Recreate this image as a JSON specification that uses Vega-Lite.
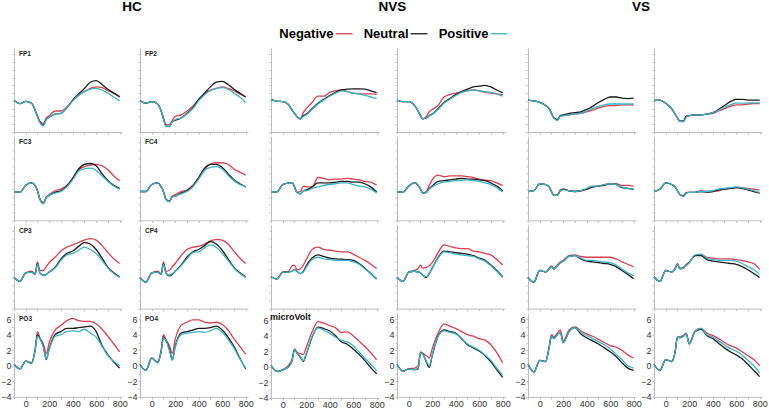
{
"$schema":"https://vega.github.io/schema/vega-lite/v6.json",
"padding":{"left":0,"top":0,"right":2,"bottom":0},
"background":"white",
"data":{"values":[
{"k":"HC FP1","t":-100,"Negative":0.1,"Neutral":0.1,"Positive":0.1},
{"k":"HC FP1","t":-50,"Negative":-0.35,"Neutral":-0.35,"Positive":-0.35},
{"k":"HC FP1","t":0,"Negative":-0.05,"Neutral":-0.05,"Positive":-0.05},
{"k":"HC FP1","t":50,"Negative":-0.3,"Neutral":-0.3,"Positive":-0.3},
{"k":"HC FP1","t":80,"Negative":-1.2,"Neutral":-1.2,"Positive":-1.2},
{"k":"HC FP1","t":100,"Negative":-2.0,"Neutral":-2.0,"Positive":-2.0},
{"k":"HC FP1","t":120,"Negative":-2.6,"Neutral":-2.7,"Positive":-2.8},
{"k":"HC FP1","t":150,"Negative":-2.9,"Neutral":-3.1,"Positive":-3.2},
{"k":"HC FP1","t":175,"Negative":-2.2,"Neutral":-2.4,"Positive":-2.4},
{"k":"HC FP1","t":200,"Negative":-1.9,"Neutral":-2.1,"Positive":-2.1},
{"k":"HC FP1","t":250,"Negative":-1.3,"Neutral":-1.7,"Positive":-1.7},
{"k":"HC FP1","t":300,"Negative":-1.3,"Neutral":-1.6,"Positive":-1.6},
{"k":"HC FP1","t":350,"Negative":-0.8,"Neutral":-0.9,"Positive":-0.9},
{"k":"HC FP1","t":400,"Negative":0.0,"Neutral":0.1,"Positive":0.0},
{"k":"HC FP1","t":450,"Negative":0.7,"Neutral":0.9,"Positive":0.7},
{"k":"HC FP1","t":500,"Negative":1.2,"Neutral":1.6,"Positive":1.2},
{"k":"HC FP1","t":550,"Negative":1.6,"Neutral":2.4,"Positive":1.5},
{"k":"HC FP1","t":600,"Negative":1.8,"Neutral":2.6,"Positive":1.6},
{"k":"HC FP1","t":650,"Negative":1.7,"Neutral":2.1,"Positive":1.4},
{"k":"HC FP1","t":700,"Negative":1.3,"Neutral":1.5,"Positive":1.0},
{"k":"HC FP1","t":750,"Negative":1.0,"Neutral":1.0,"Positive":0.5},
{"k":"HC FP1","t":800,"Negative":0.6,"Neutral":0.5,"Positive":0.0},
{"k":"HC FP2","t":-100,"Negative":0.05,"Neutral":0.05,"Positive":0.05},
{"k":"HC FP2","t":-50,"Negative":-0.3,"Neutral":-0.3,"Positive":-0.3},
{"k":"HC FP2","t":0,"Negative":-0.1,"Neutral":-0.1,"Positive":-0.1},
{"k":"HC FP2","t":50,"Negative":-0.4,"Neutral":-0.4,"Positive":-0.4},
{"k":"HC FP2","t":80,"Negative":-1.3,"Neutral":-1.3,"Positive":-1.3},
{"k":"HC FP2","t":100,"Negative":-2.2,"Neutral":-2.3,"Positive":-2.3},
{"k":"HC FP2","t":120,"Negative":-3.0,"Neutral":-3.2,"Positive":-3.2},
{"k":"HC FP2","t":150,"Negative":-3.1,"Neutral":-3.3,"Positive":-3.3},
{"k":"HC FP2","t":175,"Negative":-2.5,"Neutral":-2.7,"Positive":-2.7},
{"k":"HC FP2","t":200,"Negative":-2.0,"Neutral":-2.5,"Positive":-2.4},
{"k":"HC FP2","t":250,"Negative":-1.8,"Neutral":-2.2,"Positive":-2.2},
{"k":"HC FP2","t":300,"Negative":-1.3,"Neutral":-1.6,"Positive":-1.7},
{"k":"HC FP2","t":350,"Negative":-0.7,"Neutral":-0.9,"Positive":-1.0},
{"k":"HC FP2","t":400,"Negative":0.2,"Neutral":0.2,"Positive":0.0},
{"k":"HC FP2","t":450,"Negative":0.9,"Neutral":1.0,"Positive":0.8},
{"k":"HC FP2","t":500,"Negative":1.4,"Neutral":1.8,"Positive":1.3},
{"k":"HC FP2","t":550,"Negative":1.6,"Neutral":2.4,"Positive":1.6},
{"k":"HC FP2","t":600,"Negative":1.8,"Neutral":2.5,"Positive":1.7},
{"k":"HC FP2","t":650,"Negative":1.6,"Neutral":2.1,"Positive":1.5},
{"k":"HC FP2","t":700,"Negative":1.3,"Neutral":1.5,"Positive":1.0},
{"k":"HC FP2","t":750,"Negative":0.9,"Neutral":1.0,"Positive":0.5},
{"k":"HC FP2","t":800,"Negative":0.5,"Neutral":0.5,"Positive":-0.2},
{"k":"NVS FP1","t":-100,"Negative":0.15,"Neutral":0.15,"Positive":0.15},
{"k":"NVS FP1","t":-50,"Negative":-0.05,"Neutral":-0.05,"Positive":-0.05},
{"k":"NVS FP1","t":0,"Negative":-0.1,"Neutral":-0.1,"Positive":-0.1},
{"k":"NVS FP1","t":50,"Negative":-0.5,"Neutral":-0.5,"Positive":-0.5},
{"k":"NVS FP1","t":80,"Negative":-1.2,"Neutral":-1.2,"Positive":-1.2},
{"k":"NVS FP1","t":100,"Negative":-1.6,"Neutral":-1.6,"Positive":-1.6},
{"k":"NVS FP1","t":120,"Negative":-2.0,"Neutral":-2.0,"Positive":-2.0},
{"k":"NVS FP1","t":150,"Negative":-2.3,"Neutral":-2.3,"Positive":-2.35},
{"k":"NVS FP1","t":175,"Negative":-1.5,"Neutral":-1.9,"Positive":-2.0},
{"k":"NVS FP1","t":200,"Negative":-1.0,"Neutral":-1.7,"Positive":-1.8},
{"k":"NVS FP1","t":250,"Negative":-0.2,"Neutral":-1.0,"Positive":-1.1},
{"k":"NVS FP1","t":300,"Negative":0.6,"Neutral":-0.3,"Positive":-0.4},
{"k":"NVS FP1","t":350,"Negative":0.6,"Neutral":0.2,"Positive":0.1},
{"k":"NVS FP1","t":400,"Negative":1.1,"Neutral":0.7,"Positive":0.6},
{"k":"NVS FP1","t":450,"Negative":1.3,"Neutral":1.1,"Positive":1.0},
{"k":"NVS FP1","t":500,"Negative":1.4,"Neutral":1.4,"Positive":1.3},
{"k":"NVS FP1","t":550,"Negative":1.2,"Neutral":1.5,"Positive":1.2},
{"k":"NVS FP1","t":600,"Negative":1.0,"Neutral":1.55,"Positive":1.0},
{"k":"NVS FP1","t":650,"Negative":0.9,"Neutral":1.55,"Positive":0.9},
{"k":"NVS FP1","t":700,"Negative":0.9,"Neutral":1.5,"Positive":0.7},
{"k":"NVS FP1","t":750,"Negative":0.9,"Neutral":1.3,"Positive":0.5},
{"k":"NVS FP1","t":800,"Negative":0.85,"Neutral":1.05,"Positive":0.3},
{"k":"NVS FP2","t":-100,"Negative":0.1,"Neutral":0.1,"Positive":0.1},
{"k":"NVS FP2","t":-50,"Negative":-0.1,"Neutral":-0.1,"Positive":-0.1},
{"k":"NVS FP2","t":0,"Negative":-0.1,"Neutral":-0.1,"Positive":-0.1},
{"k":"NVS FP2","t":50,"Negative":-0.6,"Neutral":-0.6,"Positive":-0.6},
{"k":"NVS FP2","t":80,"Negative":-1.3,"Neutral":-1.3,"Positive":-1.3},
{"k":"NVS FP2","t":100,"Negative":-1.9,"Neutral":-1.9,"Positive":-1.9},
{"k":"NVS FP2","t":120,"Negative":-2.3,"Neutral":-2.3,"Positive":-2.3},
{"k":"NVS FP2","t":150,"Negative":-2.0,"Neutral":-2.2,"Positive":-2.2},
{"k":"NVS FP2","t":175,"Negative":-1.4,"Neutral":-1.9,"Positive":-1.9},
{"k":"NVS FP2","t":200,"Negative":-1.1,"Neutral":-1.7,"Positive":-1.7},
{"k":"NVS FP2","t":250,"Negative":-0.6,"Neutral":-1.0,"Positive":-1.1},
{"k":"NVS FP2","t":300,"Negative":0.5,"Neutral":-0.2,"Positive":-0.3},
{"k":"NVS FP2","t":350,"Negative":0.8,"Neutral":0.3,"Positive":0.2},
{"k":"NVS FP2","t":400,"Negative":1.0,"Neutral":0.8,"Positive":0.7},
{"k":"NVS FP2","t":450,"Negative":1.2,"Neutral":1.2,"Positive":1.1},
{"k":"NVS FP2","t":500,"Negative":1.3,"Neutral":1.5,"Positive":1.3},
{"k":"NVS FP2","t":550,"Negative":1.4,"Neutral":1.8,"Positive":1.4},
{"k":"NVS FP2","t":600,"Negative":1.3,"Neutral":1.9,"Positive":1.3},
{"k":"NVS FP2","t":650,"Negative":1.1,"Neutral":2.0,"Positive":1.2},
{"k":"NVS FP2","t":700,"Negative":1.0,"Neutral":1.8,"Positive":1.1},
{"k":"NVS FP2","t":750,"Negative":0.9,"Neutral":1.4,"Positive":0.9},
{"k":"NVS FP2","t":800,"Negative":0.8,"Neutral":1.05,"Positive":0.6},
{"k":"VS FP1","t":-100,"Negative":0.1,"Neutral":0.1,"Positive":0.1},
{"k":"VS FP1","t":-50,"Negative":0.0,"Neutral":0.0,"Positive":0.0},
{"k":"VS FP1","t":0,"Negative":-0.2,"Neutral":-0.2,"Positive":-0.2},
{"k":"VS FP1","t":50,"Negative":-0.6,"Neutral":-0.6,"Positive":-0.6},
{"k":"VS FP1","t":80,"Negative":-1.0,"Neutral":-1.0,"Positive":-1.0},
{"k":"VS FP1","t":100,"Negative":-1.6,"Neutral":-1.6,"Positive":-1.6},
{"k":"VS FP1","t":120,"Negative":-2.2,"Neutral":-2.2,"Positive":-2.2},
{"k":"VS FP1","t":150,"Negative":-2.4,"Neutral":-2.4,"Positive":-2.5},
{"k":"VS FP1","t":175,"Negative":-2.0,"Neutral":-1.9,"Positive":-2.0},
{"k":"VS FP1","t":200,"Negative":-1.9,"Neutral":-1.8,"Positive":-1.9},
{"k":"VS FP1","t":250,"Negative":-1.8,"Neutral":-1.6,"Positive":-1.8},
{"k":"VS FP1","t":300,"Negative":-1.7,"Neutral":-1.5,"Positive":-1.7},
{"k":"VS FP1","t":350,"Negative":-1.6,"Neutral":-1.4,"Positive":-1.6},
{"k":"VS FP1","t":400,"Negative":-1.4,"Neutral":-1.1,"Positive":-1.3},
{"k":"VS FP1","t":450,"Negative":-1.2,"Neutral":-0.7,"Positive":-1.0},
{"k":"VS FP1","t":500,"Negative":-0.9,"Neutral":-0.2,"Positive":-0.7},
{"k":"VS FP1","t":550,"Negative":-0.7,"Neutral":0.2,"Positive":-0.5},
{"k":"VS FP1","t":600,"Negative":-0.6,"Neutral":0.5,"Positive":-0.4},
{"k":"VS FP1","t":650,"Negative":-0.6,"Neutral":0.5,"Positive":-0.4},
{"k":"VS FP1","t":700,"Negative":-0.5,"Neutral":0.35,"Positive":-0.4},
{"k":"VS FP1","t":750,"Negative":-0.5,"Neutral":0.3,"Positive":-0.4},
{"k":"VS FP1","t":800,"Negative":-0.55,"Neutral":0.35,"Positive":-0.4},
{"k":"VS FP2","t":-100,"Negative":0.05,"Neutral":0.05,"Positive":0.05},
{"k":"VS FP2","t":-50,"Negative":0.1,"Neutral":0.1,"Positive":0.1},
{"k":"VS FP2","t":0,"Negative":-0.3,"Neutral":-0.3,"Positive":-0.3},
{"k":"VS FP2","t":50,"Negative":-1.0,"Neutral":-1.0,"Positive":-1.0},
{"k":"VS FP2","t":80,"Negative":-1.7,"Neutral":-1.7,"Positive":-1.7},
{"k":"VS FP2","t":100,"Negative":-2.2,"Neutral":-2.2,"Positive":-2.2},
{"k":"VS FP2","t":120,"Negative":-2.6,"Neutral":-2.6,"Positive":-2.6},
{"k":"VS FP2","t":150,"Negative":-2.6,"Neutral":-2.6,"Positive":-2.7},
{"k":"VS FP2","t":175,"Negative":-2.0,"Neutral":-2.0,"Positive":-2.1},
{"k":"VS FP2","t":200,"Negative":-1.9,"Neutral":-1.9,"Positive":-1.9},
{"k":"VS FP2","t":250,"Negative":-1.8,"Neutral":-1.8,"Positive":-1.8},
{"k":"VS FP2","t":300,"Negative":-1.8,"Neutral":-1.8,"Positive":-1.8},
{"k":"VS FP2","t":350,"Negative":-1.7,"Neutral":-1.7,"Positive":-1.7},
{"k":"VS FP2","t":400,"Negative":-1.6,"Neutral":-1.5,"Positive":-1.5},
{"k":"VS FP2","t":450,"Negative":-1.3,"Neutral":-1.1,"Positive":-1.2},
{"k":"VS FP2","t":500,"Negative":-1.0,"Neutral":-0.6,"Positive":-0.8},
{"k":"VS FP2","t":550,"Negative":-0.7,"Neutral":-0.1,"Positive":-0.5},
{"k":"VS FP2","t":600,"Negative":-0.5,"Neutral":0.2,"Positive":-0.3},
{"k":"VS FP2","t":650,"Negative":-0.5,"Neutral":0.2,"Positive":-0.3},
{"k":"VS FP2","t":700,"Negative":-0.4,"Neutral":0.1,"Positive":-0.25},
{"k":"VS FP2","t":750,"Negative":-0.35,"Neutral":0.1,"Positive":-0.25},
{"k":"VS FP2","t":800,"Negative":-0.35,"Neutral":0.1,"Positive":-0.25},
{"k":"HC FC3","t":-100,"Negative":-0.3,"Neutral":-0.3,"Positive":-0.3},
{"k":"HC FC3","t":-50,"Negative":-0.4,"Neutral":-0.4,"Positive":-0.4},
{"k":"HC FC3","t":0,"Negative":0.5,"Neutral":0.5,"Positive":0.5},
{"k":"HC FC3","t":50,"Negative":0.8,"Neutral":0.8,"Positive":0.8},
{"k":"HC FC3","t":80,"Negative":0.45,"Neutral":0.45,"Positive":0.45},
{"k":"HC FC3","t":100,"Negative":-0.2,"Neutral":-0.2,"Positive":-0.2},
{"k":"HC FC3","t":120,"Negative":-1.2,"Neutral":-1.3,"Positive":-1.3},
{"k":"HC FC3","t":150,"Negative":-1.7,"Neutral":-1.85,"Positive":-1.85},
{"k":"HC FC3","t":175,"Negative":-1.0,"Neutral":-1.1,"Positive":-1.1},
{"k":"HC FC3","t":200,"Negative":-0.7,"Neutral":-0.8,"Positive":-0.8},
{"k":"HC FC3","t":250,"Negative":-0.2,"Neutral":-0.4,"Positive":-0.5},
{"k":"HC FC3","t":300,"Negative":0.0,"Neutral":-0.2,"Positive":-0.3},
{"k":"HC FC3","t":350,"Negative":0.5,"Neutral":0.4,"Positive":0.3},
{"k":"HC FC3","t":400,"Negative":1.4,"Neutral":1.4,"Positive":1.2},
{"k":"HC FC3","t":450,"Negative":2.5,"Neutral":2.6,"Positive":2.3},
{"k":"HC FC3","t":500,"Negative":2.9,"Neutral":3.2,"Positive":2.6},
{"k":"HC FC3","t":550,"Negative":3.1,"Neutral":3.3,"Positive":2.7},
{"k":"HC FC3","t":600,"Negative":3.2,"Neutral":3.0,"Positive":2.4},
{"k":"HC FC3","t":650,"Negative":3.0,"Neutral":2.0,"Positive":1.7},
{"k":"HC FC3","t":700,"Negative":2.5,"Neutral":1.1,"Positive":1.0},
{"k":"HC FC3","t":750,"Negative":1.7,"Neutral":0.5,"Positive":0.4},
{"k":"HC FC3","t":800,"Negative":1.1,"Neutral":0.1,"Positive":0.0},
{"k":"HC FC4","t":-100,"Negative":-0.3,"Neutral":-0.3,"Positive":-0.3},
{"k":"HC FC4","t":-50,"Negative":-0.3,"Neutral":-0.3,"Positive":-0.3},
{"k":"HC FC4","t":0,"Negative":0.6,"Neutral":0.6,"Positive":0.6},
{"k":"HC FC4","t":50,"Negative":0.8,"Neutral":0.8,"Positive":0.8},
{"k":"HC FC4","t":80,"Negative":0.3,"Neutral":0.3,"Positive":0.3},
{"k":"HC FC4","t":100,"Negative":-0.3,"Neutral":-0.3,"Positive":-0.3},
{"k":"HC FC4","t":120,"Negative":-1.2,"Neutral":-1.3,"Positive":-1.3},
{"k":"HC FC4","t":150,"Negative":-1.5,"Neutral":-1.6,"Positive":-1.6},
{"k":"HC FC4","t":175,"Negative":-0.9,"Neutral":-1.0,"Positive":-1.0},
{"k":"HC FC4","t":200,"Negative":-0.7,"Neutral":-0.9,"Positive":-0.9},
{"k":"HC FC4","t":250,"Negative":-0.3,"Neutral":-0.5,"Positive":-0.6},
{"k":"HC FC4","t":300,"Negative":-0.1,"Neutral":-0.2,"Positive":-0.3},
{"k":"HC FC4","t":350,"Negative":0.5,"Neutral":0.4,"Positive":0.3},
{"k":"HC FC4","t":400,"Negative":1.5,"Neutral":1.5,"Positive":1.3},
{"k":"HC FC4","t":450,"Negative":2.6,"Neutral":2.7,"Positive":2.4},
{"k":"HC FC4","t":500,"Negative":3.2,"Neutral":3.2,"Positive":2.8},
{"k":"HC FC4","t":550,"Negative":3.4,"Neutral":3.2,"Positive":2.9},
{"k":"HC FC4","t":600,"Negative":3.4,"Neutral":2.8,"Positive":2.6},
{"k":"HC FC4","t":650,"Negative":3.2,"Neutral":2.0,"Positive":1.8},
{"k":"HC FC4","t":700,"Negative":2.6,"Neutral":1.2,"Positive":1.1},
{"k":"HC FC4","t":750,"Negative":2.2,"Neutral":0.7,"Positive":0.6},
{"k":"HC FC4","t":800,"Negative":1.8,"Neutral":0.3,"Positive":0.3},
{"k":"NVS FC3","t":-100,"Negative":-0.3,"Neutral":-0.3,"Positive":-0.3},
{"k":"NVS FC3","t":-50,"Negative":-0.35,"Neutral":-0.35,"Positive":-0.35},
{"k":"NVS FC3","t":0,"Negative":0.6,"Neutral":0.6,"Positive":0.6},
{"k":"NVS FC3","t":50,"Negative":0.8,"Neutral":0.8,"Positive":0.8},
{"k":"NVS FC3","t":80,"Negative":0.85,"Neutral":0.85,"Positive":0.85},
{"k":"NVS FC3","t":100,"Negative":0.3,"Neutral":0.3,"Positive":0.3},
{"k":"NVS FC3","t":120,"Negative":-0.4,"Neutral":-0.4,"Positive":-0.4},
{"k":"NVS FC3","t":150,"Negative":-0.3,"Neutral":-0.6,"Positive":-0.6},
{"k":"NVS FC3","t":175,"Negative":0.4,"Neutral":-0.2,"Positive":-0.2},
{"k":"NVS FC3","t":200,"Negative":0.3,"Neutral":-0.1,"Positive":-0.2},
{"k":"NVS FC3","t":250,"Negative":0.3,"Neutral":0.3,"Positive":0.1},
{"k":"NVS FC3","t":300,"Negative":1.5,"Neutral":0.8,"Positive":0.3},
{"k":"NVS FC3","t":350,"Negative":1.4,"Neutral":0.8,"Positive":0.5},
{"k":"NVS FC3","t":400,"Negative":1.2,"Neutral":0.8,"Positive":0.6},
{"k":"NVS FC3","t":450,"Negative":1.3,"Neutral":0.9,"Positive":0.7},
{"k":"NVS FC3","t":500,"Negative":1.3,"Neutral":1.0,"Positive":0.8},
{"k":"NVS FC3","t":550,"Negative":1.4,"Neutral":1.0,"Positive":0.8},
{"k":"NVS FC3","t":600,"Negative":1.3,"Neutral":0.9,"Positive":0.6},
{"k":"NVS FC3","t":650,"Negative":1.2,"Neutral":0.9,"Positive":0.4},
{"k":"NVS FC3","t":700,"Negative":1.0,"Neutral":0.7,"Positive":0.3},
{"k":"NVS FC3","t":750,"Negative":0.9,"Neutral":0.3,"Positive":0.0},
{"k":"NVS FC3","t":800,"Negative":0.5,"Neutral":-0.35,"Positive":-0.5},
{"k":"NVS FC4","t":-100,"Negative":-0.3,"Neutral":-0.3,"Positive":-0.3},
{"k":"NVS FC4","t":-50,"Negative":-0.4,"Neutral":-0.4,"Positive":-0.4},
{"k":"NVS FC4","t":0,"Negative":0.4,"Neutral":0.4,"Positive":0.4},
{"k":"NVS FC4","t":50,"Negative":0.85,"Neutral":0.85,"Positive":0.85},
{"k":"NVS FC4","t":80,"Negative":0.5,"Neutral":0.5,"Positive":0.5},
{"k":"NVS FC4","t":100,"Negative":0.0,"Neutral":0.0,"Positive":0.0},
{"k":"NVS FC4","t":120,"Negative":-0.5,"Neutral":-0.5,"Positive":-0.5},
{"k":"NVS FC4","t":150,"Negative":-0.3,"Neutral":-0.4,"Positive":-0.4},
{"k":"NVS FC4","t":175,"Negative":0.5,"Neutral":0.1,"Positive":0.0},
{"k":"NVS FC4","t":200,"Negative":1.2,"Neutral":0.4,"Positive":0.3},
{"k":"NVS FC4","t":250,"Negative":1.8,"Neutral":1.0,"Positive":0.7},
{"k":"NVS FC4","t":300,"Negative":1.6,"Neutral":1.1,"Positive":0.9},
{"k":"NVS FC4","t":350,"Negative":1.7,"Neutral":1.2,"Positive":1.0},
{"k":"NVS FC4","t":400,"Negative":1.7,"Neutral":1.3,"Positive":1.1},
{"k":"NVS FC4","t":450,"Negative":1.7,"Neutral":1.4,"Positive":1.15},
{"k":"NVS FC4","t":500,"Negative":1.6,"Neutral":1.3,"Positive":1.2},
{"k":"NVS FC4","t":550,"Negative":1.5,"Neutral":1.3,"Positive":1.1},
{"k":"NVS FC4","t":600,"Negative":1.3,"Neutral":1.2,"Positive":1.0},
{"k":"NVS FC4","t":650,"Negative":1.15,"Neutral":1.1,"Positive":0.8},
{"k":"NVS FC4","t":700,"Negative":1.1,"Neutral":0.8,"Positive":0.6},
{"k":"NVS FC4","t":750,"Negative":0.8,"Neutral":0.4,"Positive":0.2},
{"k":"NVS FC4","t":800,"Negative":0.5,"Neutral":-0.2,"Positive":-0.35},
{"k":"VS FC3","t":-100,"Negative":-0.3,"Neutral":-0.3,"Positive":-0.3},
{"k":"VS FC3","t":-50,"Negative":-0.2,"Neutral":-0.2,"Positive":-0.2},
{"k":"VS FC3","t":0,"Negative":0.7,"Neutral":0.7,"Positive":0.7},
{"k":"VS FC3","t":50,"Negative":0.6,"Neutral":0.6,"Positive":0.6},
{"k":"VS FC3","t":80,"Negative":0.3,"Neutral":0.3,"Positive":0.3},
{"k":"VS FC3","t":100,"Negative":-0.3,"Neutral":-0.3,"Positive":-0.3},
{"k":"VS FC3","t":120,"Negative":-0.8,"Neutral":-0.8,"Positive":-0.8},
{"k":"VS FC3","t":150,"Negative":-0.7,"Neutral":-0.8,"Positive":-0.8},
{"k":"VS FC3","t":175,"Negative":-0.1,"Neutral":-0.2,"Positive":-0.2},
{"k":"VS FC3","t":200,"Negative":0.0,"Neutral":0.0,"Positive":-0.1},
{"k":"VS FC3","t":250,"Negative":-0.2,"Neutral":-0.2,"Positive":-0.2},
{"k":"VS FC3","t":300,"Negative":-0.3,"Neutral":-0.3,"Positive":-0.3},
{"k":"VS FC3","t":350,"Negative":-0.2,"Neutral":-0.2,"Positive":-0.2},
{"k":"VS FC3","t":400,"Negative":0.0,"Neutral":0.0,"Positive":0.1},
{"k":"VS FC3","t":450,"Negative":0.3,"Neutral":0.3,"Positive":0.4},
{"k":"VS FC3","t":500,"Negative":0.4,"Neutral":0.4,"Positive":0.4},
{"k":"VS FC3","t":550,"Negative":0.6,"Neutral":0.5,"Positive":0.6},
{"k":"VS FC3","t":600,"Negative":0.7,"Neutral":0.7,"Positive":0.7},
{"k":"VS FC3","t":650,"Negative":0.7,"Neutral":0.6,"Positive":0.6},
{"k":"VS FC3","t":700,"Negative":0.5,"Neutral":0.2,"Positive":0.3},
{"k":"VS FC3","t":750,"Negative":0.5,"Neutral":0.1,"Positive":0.1},
{"k":"VS FC3","t":800,"Negative":0.4,"Neutral":0.0,"Positive":0.0},
{"k":"VS FC4","t":-100,"Negative":-0.3,"Neutral":-0.3,"Positive":-0.3},
{"k":"VS FC4","t":-50,"Negative":0.0,"Neutral":0.0,"Positive":0.0},
{"k":"VS FC4","t":0,"Negative":0.8,"Neutral":0.8,"Positive":0.8},
{"k":"VS FC4","t":50,"Negative":0.6,"Neutral":0.6,"Positive":0.6},
{"k":"VS FC4","t":80,"Negative":0.3,"Neutral":0.3,"Positive":0.3},
{"k":"VS FC4","t":100,"Negative":-0.2,"Neutral":-0.2,"Positive":-0.2},
{"k":"VS FC4","t":120,"Negative":-0.7,"Neutral":-0.7,"Positive":-0.7},
{"k":"VS FC4","t":150,"Negative":-0.8,"Neutral":-0.9,"Positive":-0.9},
{"k":"VS FC4","t":175,"Negative":-0.4,"Neutral":-0.5,"Positive":-0.5},
{"k":"VS FC4","t":200,"Negative":-0.4,"Neutral":-0.4,"Positive":-0.4},
{"k":"VS FC4","t":250,"Negative":-0.4,"Neutral":-0.4,"Positive":-0.4},
{"k":"VS FC4","t":300,"Negative":-0.2,"Neutral":-0.3,"Positive":-0.3},
{"k":"VS FC4","t":350,"Negative":-0.3,"Neutral":-0.4,"Positive":-0.3},
{"k":"VS FC4","t":400,"Negative":-0.3,"Neutral":-0.3,"Positive":-0.2},
{"k":"VS FC4","t":450,"Negative":-0.2,"Neutral":-0.1,"Positive":0.0},
{"k":"VS FC4","t":500,"Negative":0.0,"Neutral":0.0,"Positive":0.1},
{"k":"VS FC4","t":550,"Negative":0.1,"Neutral":0.1,"Positive":0.2},
{"k":"VS FC4","t":600,"Negative":0.2,"Neutral":0.2,"Positive":0.3},
{"k":"VS FC4","t":650,"Negative":0.2,"Neutral":0.1,"Positive":0.2},
{"k":"VS FC4","t":700,"Negative":0.1,"Neutral":-0.1,"Positive":0.0},
{"k":"VS FC4","t":750,"Negative":0.0,"Neutral":-0.3,"Positive":-0.2},
{"k":"VS FC4","t":800,"Negative":-0.1,"Neutral":-0.5,"Positive":-0.4},
{"k":"HC CP3","t":-100,"Negative":0.0,"Neutral":0.0,"Positive":0.0},
{"k":"HC CP3","t":-50,"Negative":-0.5,"Neutral":-0.5,"Positive":-0.5},
{"k":"HC CP3","t":0,"Negative":0.6,"Neutral":0.6,"Positive":0.6},
{"k":"HC CP3","t":50,"Negative":0.8,"Neutral":0.7,"Positive":0.7},
{"k":"HC CP3","t":80,"Negative":0.5,"Neutral":0.4,"Positive":0.4},
{"k":"HC CP3","t":100,"Negative":2.0,"Neutral":1.8,"Positive":1.7},
{"k":"HC CP3","t":120,"Negative":0.9,"Neutral":0.6,"Positive":0.6},
{"k":"HC CP3","t":150,"Negative":0.9,"Neutral":0.3,"Positive":0.3},
{"k":"HC CP3","t":175,"Negative":1.4,"Neutral":0.4,"Positive":0.4},
{"k":"HC CP3","t":200,"Negative":1.9,"Neutral":0.7,"Positive":0.7},
{"k":"HC CP3","t":250,"Negative":2.6,"Neutral":1.3,"Positive":1.2},
{"k":"HC CP3","t":300,"Negative":3.4,"Neutral":2.4,"Positive":2.2},
{"k":"HC CP3","t":350,"Negative":3.9,"Neutral":3.1,"Positive":2.9},
{"k":"HC CP3","t":400,"Negative":4.2,"Neutral":3.4,"Positive":3.1},
{"k":"HC CP3","t":450,"Negative":4.5,"Neutral":4.0,"Positive":3.5},
{"k":"HC CP3","t":500,"Negative":4.8,"Neutral":4.5,"Positive":3.9},
{"k":"HC CP3","t":550,"Negative":5.0,"Neutral":4.3,"Positive":3.6},
{"k":"HC CP3","t":600,"Negative":4.8,"Neutral":3.6,"Positive":3.1},
{"k":"HC CP3","t":650,"Negative":4.1,"Neutral":2.5,"Positive":2.2},
{"k":"HC CP3","t":700,"Negative":3.2,"Neutral":1.3,"Positive":1.2},
{"k":"HC CP3","t":750,"Negative":2.4,"Neutral":0.6,"Positive":0.5},
{"k":"HC CP3","t":800,"Negative":1.8,"Neutral":0.1,"Positive":0.0},
{"k":"HC CP4","t":-100,"Negative":0.0,"Neutral":0.0,"Positive":0.0},
{"k":"HC CP4","t":-50,"Negative":-0.6,"Neutral":-0.6,"Positive":-0.6},
{"k":"HC CP4","t":0,"Negative":0.6,"Neutral":0.6,"Positive":0.6},
{"k":"HC CP4","t":50,"Negative":0.8,"Neutral":0.7,"Positive":0.7},
{"k":"HC CP4","t":80,"Negative":0.5,"Neutral":0.4,"Positive":0.4},
{"k":"HC CP4","t":100,"Negative":2.0,"Neutral":1.8,"Positive":1.7},
{"k":"HC CP4","t":120,"Negative":0.8,"Neutral":0.6,"Positive":0.6},
{"k":"HC CP4","t":150,"Negative":0.9,"Neutral":0.2,"Positive":0.3},
{"k":"HC CP4","t":175,"Negative":1.4,"Neutral":0.4,"Positive":0.5},
{"k":"HC CP4","t":200,"Negative":1.8,"Neutral":0.8,"Positive":0.8},
{"k":"HC CP4","t":250,"Negative":2.8,"Neutral":1.6,"Positive":1.5},
{"k":"HC CP4","t":300,"Negative":3.6,"Neutral":2.6,"Positive":2.4},
{"k":"HC CP4","t":350,"Negative":3.9,"Neutral":3.3,"Positive":3.2},
{"k":"HC CP4","t":400,"Negative":4.0,"Neutral":3.6,"Positive":3.3},
{"k":"HC CP4","t":450,"Negative":4.3,"Neutral":4.1,"Positive":3.8},
{"k":"HC CP4","t":500,"Negative":4.7,"Neutral":4.6,"Positive":4.2},
{"k":"HC CP4","t":550,"Negative":4.9,"Neutral":4.3,"Positive":3.9},
{"k":"HC CP4","t":600,"Negative":4.8,"Neutral":3.5,"Positive":3.1},
{"k":"HC CP4","t":650,"Negative":4.3,"Neutral":2.4,"Positive":2.2},
{"k":"HC CP4","t":700,"Negative":3.4,"Neutral":1.3,"Positive":1.2},
{"k":"HC CP4","t":750,"Negative":2.5,"Neutral":0.6,"Positive":0.5},
{"k":"HC CP4","t":800,"Negative":1.8,"Neutral":0.1,"Positive":0.0},
{"k":"NVS CP3","t":-100,"Negative":0.1,"Neutral":0.1,"Positive":0.1},
{"k":"NVS CP3","t":-50,"Negative":-0.2,"Neutral":-0.2,"Positive":-0.2},
{"k":"NVS CP3","t":0,"Negative":0.7,"Neutral":0.7,"Positive":0.7},
{"k":"NVS CP3","t":50,"Negative":0.8,"Neutral":0.7,"Positive":0.7},
{"k":"NVS CP3","t":80,"Negative":1.5,"Neutral":0.8,"Positive":0.8},
{"k":"NVS CP3","t":100,"Negative":1.6,"Neutral":1.0,"Positive":1.0},
{"k":"NVS CP3","t":120,"Negative":1.0,"Neutral":0.8,"Positive":0.8},
{"k":"NVS CP3","t":150,"Negative":1.1,"Neutral":0.5,"Positive":0.5},
{"k":"NVS CP3","t":175,"Negative":1.6,"Neutral":0.8,"Positive":0.7},
{"k":"NVS CP3","t":200,"Negative":2.3,"Neutral":1.5,"Positive":1.3},
{"k":"NVS CP3","t":250,"Negative":3.6,"Neutral":2.5,"Positive":2.3},
{"k":"NVS CP3","t":300,"Negative":3.9,"Neutral":2.9,"Positive":2.6},
{"k":"NVS CP3","t":350,"Negative":3.6,"Neutral":2.7,"Positive":2.4},
{"k":"NVS CP3","t":400,"Negative":3.5,"Neutral":2.5,"Positive":2.3},
{"k":"NVS CP3","t":450,"Negative":3.4,"Neutral":2.4,"Positive":2.2},
{"k":"NVS CP3","t":500,"Negative":3.3,"Neutral":2.35,"Positive":2.2},
{"k":"NVS CP3","t":550,"Negative":3.3,"Neutral":2.3,"Positive":2.2},
{"k":"NVS CP3","t":600,"Negative":3.0,"Neutral":2.2,"Positive":2.0},
{"k":"NVS CP3","t":650,"Negative":2.6,"Neutral":1.8,"Positive":1.7},
{"k":"NVS CP3","t":700,"Negative":2.2,"Neutral":1.2,"Positive":1.1},
{"k":"NVS CP3","t":750,"Negative":1.7,"Neutral":0.5,"Positive":0.5},
{"k":"NVS CP3","t":800,"Negative":1.15,"Neutral":-0.2,"Positive":-0.15},
{"k":"NVS CP4","t":-100,"Negative":0.0,"Neutral":0.0,"Positive":0.0},
{"k":"NVS CP4","t":-50,"Negative":-0.5,"Neutral":-0.5,"Positive":-0.5},
{"k":"NVS CP4","t":0,"Negative":0.7,"Neutral":0.7,"Positive":0.7},
{"k":"NVS CP4","t":50,"Negative":0.9,"Neutral":0.8,"Positive":0.8},
{"k":"NVS CP4","t":80,"Negative":1.2,"Neutral":0.7,"Positive":0.7},
{"k":"NVS CP4","t":100,"Negative":1.6,"Neutral":0.6,"Positive":0.6},
{"k":"NVS CP4","t":120,"Negative":1.2,"Neutral":0.3,"Positive":0.3},
{"k":"NVS CP4","t":150,"Negative":1.3,"Neutral":0.0,"Positive":0.1},
{"k":"NVS CP4","t":175,"Negative":1.5,"Neutral":0.5,"Positive":0.5},
{"k":"NVS CP4","t":200,"Negative":1.9,"Neutral":1.2,"Positive":1.2},
{"k":"NVS CP4","t":250,"Negative":3.2,"Neutral":2.6,"Positive":2.5},
{"k":"NVS CP4","t":300,"Negative":4.2,"Neutral":3.4,"Positive":3.3},
{"k":"NVS CP4","t":350,"Negative":4.0,"Neutral":3.3,"Positive":3.2},
{"k":"NVS CP4","t":400,"Negative":3.8,"Neutral":3.2,"Positive":3.0},
{"k":"NVS CP4","t":450,"Negative":3.7,"Neutral":3.1,"Positive":2.9},
{"k":"NVS CP4","t":500,"Negative":3.7,"Neutral":3.0,"Positive":2.8},
{"k":"NVS CP4","t":550,"Negative":3.4,"Neutral":2.8,"Positive":2.7},
{"k":"NVS CP4","t":600,"Negative":3.3,"Neutral":2.5,"Positive":2.4},
{"k":"NVS CP4","t":650,"Negative":3.1,"Neutral":2.2,"Positive":2.1},
{"k":"NVS CP4","t":700,"Negative":2.9,"Neutral":1.6,"Positive":1.5},
{"k":"NVS CP4","t":750,"Negative":2.3,"Neutral":0.9,"Positive":0.8},
{"k":"NVS CP4","t":800,"Negative":1.6,"Neutral":0.1,"Positive":0.0},
{"k":"VS CP3","t":-100,"Negative":0.0,"Neutral":0.0,"Positive":0.0},
{"k":"VS CP3","t":-50,"Negative":-0.6,"Neutral":-0.6,"Positive":-0.6},
{"k":"VS CP3","t":0,"Negative":0.9,"Neutral":0.9,"Positive":0.9},
{"k":"VS CP3","t":50,"Negative":0.7,"Neutral":0.7,"Positive":0.7},
{"k":"VS CP3","t":80,"Negative":1.2,"Neutral":1.1,"Positive":1.1},
{"k":"VS CP3","t":100,"Negative":1.5,"Neutral":1.4,"Positive":1.4},
{"k":"VS CP3","t":120,"Negative":1.2,"Neutral":1.1,"Positive":1.1},
{"k":"VS CP3","t":150,"Negative":1.6,"Neutral":1.5,"Positive":1.5},
{"k":"VS CP3","t":175,"Negative":2.0,"Neutral":1.9,"Positive":1.9},
{"k":"VS CP3","t":200,"Negative":2.2,"Neutral":2.1,"Positive":2.1},
{"k":"VS CP3","t":250,"Negative":2.8,"Neutral":2.7,"Positive":2.7},
{"k":"VS CP3","t":300,"Negative":2.9,"Neutral":2.8,"Positive":2.8},
{"k":"VS CP3","t":350,"Negative":2.7,"Neutral":2.4,"Positive":2.5},
{"k":"VS CP3","t":400,"Negative":2.6,"Neutral":2.1,"Positive":2.2},
{"k":"VS CP3","t":450,"Negative":2.6,"Neutral":2.0,"Positive":2.2},
{"k":"VS CP3","t":500,"Negative":2.6,"Neutral":1.9,"Positive":2.1},
{"k":"VS CP3","t":550,"Negative":2.6,"Neutral":1.8,"Positive":2.0},
{"k":"VS CP3","t":600,"Negative":2.6,"Neutral":1.7,"Positive":1.9},
{"k":"VS CP3","t":650,"Negative":2.4,"Neutral":1.4,"Positive":1.6},
{"k":"VS CP3","t":700,"Negative":2.0,"Neutral":0.9,"Positive":1.1},
{"k":"VS CP3","t":750,"Negative":1.7,"Neutral":0.4,"Positive":0.6},
{"k":"VS CP3","t":800,"Negative":1.35,"Neutral":-0.15,"Positive":0.2},
{"k":"VS CP4","t":-100,"Negative":0.1,"Neutral":0.1,"Positive":0.1},
{"k":"VS CP4","t":-50,"Negative":-0.5,"Neutral":-0.5,"Positive":-0.5},
{"k":"VS CP4","t":0,"Negative":0.9,"Neutral":0.9,"Positive":0.9},
{"k":"VS CP4","t":50,"Negative":0.7,"Neutral":0.7,"Positive":0.7},
{"k":"VS CP4","t":80,"Negative":1.2,"Neutral":1.1,"Positive":1.1},
{"k":"VS CP4","t":100,"Negative":1.8,"Neutral":1.7,"Positive":1.7},
{"k":"VS CP4","t":120,"Negative":1.2,"Neutral":1.1,"Positive":1.1},
{"k":"VS CP4","t":150,"Negative":1.3,"Neutral":1.2,"Positive":1.2},
{"k":"VS CP4","t":175,"Negative":1.7,"Neutral":1.6,"Positive":1.6},
{"k":"VS CP4","t":200,"Negative":2.0,"Neutral":1.9,"Positive":1.9},
{"k":"VS CP4","t":250,"Negative":2.8,"Neutral":2.8,"Positive":2.9},
{"k":"VS CP4","t":300,"Negative":2.9,"Neutral":2.8,"Positive":3.0},
{"k":"VS CP4","t":350,"Negative":2.6,"Neutral":2.3,"Positive":2.5},
{"k":"VS CP4","t":400,"Negative":2.5,"Neutral":2.1,"Positive":2.3},
{"k":"VS CP4","t":450,"Negative":2.4,"Neutral":2.0,"Positive":2.2},
{"k":"VS CP4","t":500,"Negative":2.4,"Neutral":1.9,"Positive":2.2},
{"k":"VS CP4","t":550,"Negative":2.4,"Neutral":1.8,"Positive":2.2},
{"k":"VS CP4","t":600,"Negative":2.3,"Neutral":1.7,"Positive":2.1},
{"k":"VS CP4","t":650,"Negative":2.2,"Neutral":1.4,"Positive":1.8},
{"k":"VS CP4","t":700,"Negative":2.0,"Neutral":1.0,"Positive":1.4},
{"k":"VS CP4","t":750,"Negative":1.8,"Neutral":0.5,"Positive":1.0},
{"k":"VS CP4","t":800,"Negative":1.05,"Neutral":0.0,"Positive":0.4},
{"k":"HC PO3","t":-100,"Negative":0.2,"Neutral":0.2,"Positive":0.2},
{"k":"HC PO3","t":-50,"Negative":-0.4,"Neutral":-0.4,"Positive":-0.4},
{"k":"HC PO3","t":0,"Negative":0.6,"Neutral":0.6,"Positive":0.6},
{"k":"HC PO3","t":50,"Negative":0.4,"Neutral":0.3,"Positive":0.3},
{"k":"HC PO3","t":80,"Negative":2.2,"Neutral":2.0,"Positive":2.0},
{"k":"HC PO3","t":100,"Negative":4.4,"Neutral":4.0,"Positive":3.8},
{"k":"HC PO3","t":120,"Negative":3.6,"Neutral":3.5,"Positive":3.5},
{"k":"HC PO3","t":150,"Negative":2.8,"Neutral":2.5,"Positive":2.4},
{"k":"HC PO3","t":175,"Negative":1.6,"Neutral":0.8,"Positive":0.9},
{"k":"HC PO3","t":200,"Negative":3.0,"Neutral":2.2,"Positive":2.1},
{"k":"HC PO3","t":250,"Negative":4.6,"Neutral":4.0,"Positive":3.8},
{"k":"HC PO3","t":300,"Negative":5.2,"Neutral":4.4,"Positive":4.0},
{"k":"HC PO3","t":350,"Negative":5.8,"Neutral":4.8,"Positive":4.4},
{"k":"HC PO3","t":400,"Negative":6.1,"Neutral":4.8,"Positive":4.5},
{"k":"HC PO3","t":450,"Negative":5.8,"Neutral":4.9,"Positive":4.4},
{"k":"HC PO3","t":500,"Negative":5.7,"Neutral":5.0,"Positive":4.7},
{"k":"HC PO3","t":550,"Negative":5.7,"Neutral":5.1,"Positive":4.2},
{"k":"HC PO3","t":600,"Negative":5.4,"Neutral":4.4,"Positive":3.7},
{"k":"HC PO3","t":650,"Negative":4.7,"Neutral":2.6,"Positive":2.5},
{"k":"HC PO3","t":700,"Negative":3.8,"Neutral":1.4,"Positive":1.3},
{"k":"HC PO3","t":750,"Negative":2.8,"Neutral":0.5,"Positive":0.6},
{"k":"HC PO3","t":800,"Negative":1.8,"Neutral":-0.3,"Positive":0.0},
{"k":"HC PO4","t":-100,"Negative":0.2,"Neutral":0.2,"Positive":0.2},
{"k":"HC PO4","t":-50,"Negative":-0.6,"Neutral":-0.6,"Positive":-0.6},
{"k":"HC PO4","t":0,"Negative":1.0,"Neutral":1.0,"Positive":1.0},
{"k":"HC PO4","t":50,"Negative":0.5,"Neutral":0.4,"Positive":0.4},
{"k":"HC PO4","t":80,"Negative":2.0,"Neutral":1.8,"Positive":1.8},
{"k":"HC PO4","t":100,"Negative":4.0,"Neutral":3.7,"Positive":3.6},
{"k":"HC PO4","t":120,"Negative":3.4,"Neutral":3.3,"Positive":3.3},
{"k":"HC PO4","t":150,"Negative":2.6,"Neutral":2.2,"Positive":2.0},
{"k":"HC PO4","t":175,"Negative":1.6,"Neutral":0.8,"Positive":0.7},
{"k":"HC PO4","t":200,"Negative":3.4,"Neutral":2.5,"Positive":2.4},
{"k":"HC PO4","t":250,"Negative":5.2,"Neutral":4.2,"Positive":4.0},
{"k":"HC PO4","t":300,"Negative":5.6,"Neutral":4.4,"Positive":4.2},
{"k":"HC PO4","t":350,"Negative":5.9,"Neutral":4.6,"Positive":4.3},
{"k":"HC PO4","t":400,"Negative":5.9,"Neutral":4.8,"Positive":4.4},
{"k":"HC PO4","t":450,"Negative":5.6,"Neutral":4.8,"Positive":4.3},
{"k":"HC PO4","t":500,"Negative":5.5,"Neutral":4.9,"Positive":4.5},
{"k":"HC PO4","t":550,"Negative":5.6,"Neutral":5.1,"Positive":4.8},
{"k":"HC PO4","t":600,"Negative":5.3,"Neutral":4.6,"Positive":4.3},
{"k":"HC PO4","t":650,"Negative":4.6,"Neutral":3.7,"Positive":3.4},
{"k":"HC PO4","t":700,"Negative":3.5,"Neutral":2.5,"Positive":2.3},
{"k":"HC PO4","t":750,"Negative":2.5,"Neutral":1.0,"Positive":0.9},
{"k":"HC PO4","t":800,"Negative":1.5,"Neutral":-0.4,"Positive":-0.3},
{"k":"NVS PO3","t":-100,"Negative":0.2,"Neutral":0.2,"Positive":0.2},
{"k":"NVS PO3","t":-50,"Negative":-0.6,"Neutral":-0.6,"Positive":-0.6},
{"k":"NVS PO3","t":0,"Negative":-0.4,"Neutral":-0.4,"Positive":-0.4},
{"k":"NVS PO3","t":50,"Negative":0.2,"Neutral":0.0,"Positive":0.0},
{"k":"NVS PO3","t":80,"Negative":1.0,"Neutral":0.8,"Positive":0.8},
{"k":"NVS PO3","t":100,"Negative":2.3,"Neutral":2.2,"Positive":2.2},
{"k":"NVS PO3","t":120,"Negative":1.9,"Neutral":1.8,"Positive":1.8},
{"k":"NVS PO3","t":150,"Negative":1.7,"Neutral":1.2,"Positive":1.3},
{"k":"NVS PO3","t":175,"Negative":1.6,"Neutral":0.7,"Positive":0.8},
{"k":"NVS PO3","t":200,"Negative":2.5,"Neutral":1.6,"Positive":1.7},
{"k":"NVS PO3","t":250,"Negative":4.5,"Neutral":3.8,"Positive":3.9},
{"k":"NVS PO3","t":300,"Negative":5.8,"Neutral":5.1,"Positive":5.0},
{"k":"NVS PO3","t":350,"Negative":5.6,"Neutral":4.9,"Positive":4.7},
{"k":"NVS PO3","t":400,"Negative":5.3,"Neutral":4.6,"Positive":4.3},
{"k":"NVS PO3","t":450,"Negative":5.0,"Neutral":4.0,"Positive":3.8},
{"k":"NVS PO3","t":500,"Negative":4.4,"Neutral":3.2,"Positive":3.4},
{"k":"NVS PO3","t":550,"Negative":4.5,"Neutral":2.9,"Positive":3.2},
{"k":"NVS PO3","t":600,"Negative":4.0,"Neutral":2.3,"Positive":2.7},
{"k":"NVS PO3","t":650,"Negative":3.3,"Neutral":1.6,"Positive":1.9},
{"k":"NVS PO3","t":700,"Negative":2.6,"Neutral":0.8,"Positive":1.1},
{"k":"NVS PO3","t":750,"Negative":1.8,"Neutral":-0.1,"Positive":0.3},
{"k":"NVS PO3","t":800,"Negative":0.9,"Neutral":-0.9,"Positive":-0.5},
{"k":"NVS PO4","t":-100,"Negative":0.2,"Neutral":0.2,"Positive":0.2},
{"k":"NVS PO4","t":-50,"Negative":-0.7,"Neutral":-0.7,"Positive":-0.7},
{"k":"NVS PO4","t":0,"Negative":-0.4,"Neutral":-0.4,"Positive":-0.4},
{"k":"NVS PO4","t":50,"Negative":-0.3,"Neutral":-0.5,"Positive":-0.5},
{"k":"NVS PO4","t":80,"Negative":0.0,"Neutral":-0.4,"Positive":-0.3},
{"k":"NVS PO4","t":100,"Negative":1.8,"Neutral":1.7,"Positive":1.7},
{"k":"NVS PO4","t":120,"Negative":1.6,"Neutral":1.5,"Positive":1.5},
{"k":"NVS PO4","t":150,"Negative":1.3,"Neutral":0.5,"Positive":0.6},
{"k":"NVS PO4","t":175,"Negative":1.0,"Neutral":-0.2,"Positive":0.0},
{"k":"NVS PO4","t":200,"Negative":2.2,"Neutral":1.3,"Positive":1.4},
{"k":"NVS PO4","t":250,"Negative":4.2,"Neutral":3.8,"Positive":3.8},
{"k":"NVS PO4","t":300,"Negative":5.4,"Neutral":4.6,"Positive":4.5},
{"k":"NVS PO4","t":350,"Negative":5.1,"Neutral":4.4,"Positive":4.3},
{"k":"NVS PO4","t":400,"Negative":4.8,"Neutral":4.2,"Positive":4.1},
{"k":"NVS PO4","t":450,"Negative":4.4,"Neutral":3.5,"Positive":3.5},
{"k":"NVS PO4","t":500,"Negative":4.0,"Neutral":2.7,"Positive":2.8},
{"k":"NVS PO4","t":550,"Negative":3.8,"Neutral":2.3,"Positive":2.4},
{"k":"NVS PO4","t":600,"Negative":3.5,"Neutral":1.9,"Positive":2.0},
{"k":"NVS PO4","t":650,"Negative":3.3,"Neutral":1.3,"Positive":1.4},
{"k":"NVS PO4","t":700,"Negative":2.7,"Neutral":0.5,"Positive":0.7},
{"k":"NVS PO4","t":750,"Negative":1.7,"Neutral":-0.5,"Positive":-0.3},
{"k":"NVS PO4","t":800,"Negative":0.4,"Neutral":-1.5,"Positive":-1.2},
{"k":"VS PO3","t":-100,"Negative":0.2,"Neutral":0.2,"Positive":0.2},
{"k":"VS PO3","t":-50,"Negative":-0.8,"Neutral":-0.8,"Positive":-0.8},
{"k":"VS PO3","t":0,"Negative":0.7,"Neutral":0.7,"Positive":0.7},
{"k":"VS PO3","t":50,"Negative":0.55,"Neutral":0.55,"Positive":0.55},
{"k":"VS PO3","t":80,"Negative":2.5,"Neutral":2.3,"Positive":2.3},
{"k":"VS PO3","t":100,"Negative":4.0,"Neutral":3.8,"Positive":3.8},
{"k":"VS PO3","t":120,"Negative":3.7,"Neutral":3.5,"Positive":3.5},
{"k":"VS PO3","t":150,"Negative":4.2,"Neutral":4.0,"Positive":4.0},
{"k":"VS PO3","t":175,"Negative":4.6,"Neutral":4.3,"Positive":4.3},
{"k":"VS PO3","t":200,"Negative":3.2,"Neutral":3.0,"Positive":3.0},
{"k":"VS PO3","t":250,"Negative":4.6,"Neutral":4.4,"Positive":4.4},
{"k":"VS PO3","t":300,"Negative":5.0,"Neutral":4.9,"Positive":4.9},
{"k":"VS PO3","t":350,"Negative":4.5,"Neutral":4.1,"Positive":4.3},
{"k":"VS PO3","t":400,"Negative":4.1,"Neutral":3.6,"Positive":3.9},
{"k":"VS PO3","t":450,"Negative":3.8,"Neutral":3.2,"Positive":3.5},
{"k":"VS PO3","t":500,"Negative":3.4,"Neutral":2.8,"Positive":3.1},
{"k":"VS PO3","t":550,"Negative":3.0,"Neutral":2.3,"Positive":2.7},
{"k":"VS PO3","t":600,"Negative":2.6,"Neutral":1.8,"Positive":2.2},
{"k":"VS PO3","t":650,"Negative":2.4,"Neutral":1.2,"Positive":1.5},
{"k":"VS PO3","t":700,"Negative":2.0,"Neutral":0.4,"Positive":0.8},
{"k":"VS PO3","t":750,"Negative":1.4,"Neutral":-0.3,"Positive":0.0},
{"k":"VS PO3","t":800,"Negative":1.0,"Neutral":-0.6,"Positive":-0.3},
{"k":"VS PO4","t":-100,"Negative":0.2,"Neutral":0.2,"Positive":0.2},
{"k":"VS PO4","t":-50,"Negative":-0.6,"Neutral":-0.6,"Positive":-0.6},
{"k":"VS PO4","t":0,"Negative":0.8,"Neutral":0.8,"Positive":0.8},
{"k":"VS PO4","t":50,"Negative":0.55,"Neutral":0.55,"Positive":0.55},
{"k":"VS PO4","t":80,"Negative":1.8,"Neutral":1.8,"Positive":1.8},
{"k":"VS PO4","t":100,"Negative":3.7,"Neutral":3.7,"Positive":3.7},
{"k":"VS PO4","t":120,"Negative":3.7,"Neutral":3.6,"Positive":3.6},
{"k":"VS PO4","t":150,"Negative":3.9,"Neutral":3.8,"Positive":3.8},
{"k":"VS PO4","t":175,"Negative":4.2,"Neutral":4.1,"Positive":4.1},
{"k":"VS PO4","t":200,"Negative":2.9,"Neutral":2.8,"Positive":2.8},
{"k":"VS PO4","t":250,"Negative":4.5,"Neutral":4.4,"Positive":4.4},
{"k":"VS PO4","t":300,"Negative":4.8,"Neutral":4.7,"Positive":4.8},
{"k":"VS PO4","t":350,"Negative":4.2,"Neutral":3.9,"Positive":4.0},
{"k":"VS PO4","t":400,"Negative":3.9,"Neutral":3.5,"Positive":3.7},
{"k":"VS PO4","t":450,"Negative":3.5,"Neutral":2.9,"Positive":3.2},
{"k":"VS PO4","t":500,"Negative":3.0,"Neutral":2.3,"Positive":2.7},
{"k":"VS PO4","t":550,"Negative":2.6,"Neutral":1.8,"Positive":2.2},
{"k":"VS PO4","t":600,"Negative":2.3,"Neutral":1.4,"Positive":1.9},
{"k":"VS PO4","t":650,"Negative":1.8,"Neutral":0.9,"Positive":1.4},
{"k":"VS PO4","t":700,"Negative":1.3,"Neutral":0.2,"Positive":0.7},
{"k":"VS PO4","t":750,"Negative":0.8,"Neutral":-0.6,"Positive":0.0},
{"k":"VS PO4","t":800,"Negative":0.0,"Neutral":-1.4,"Positive":-0.9}
]},
"transform":[{"fold":["Negative","Neutral","Positive"],"as":["cond","uv"]}],
"spacing":3,
"hconcat":[
{"title":{"text":"HC","anchor":"middle","dx":5,"fontSize":13.5,"fontWeight":"bold","color":"#000","offset":23.5,"baseline":"alphabetic"},
 "spacing":-2,
 "hconcat":[
  {"spacing":1.3,"vconcat":[
   {"transform":[{"filter":"datum.k=='HC FP1'"}],"title":{"text":"FP1","anchor":"start","frame":"group","offset":-14.5,"dx":5,"fontSize":6.5,"fontWeight":"bold","color":"#222","baseline":"alphabetic"},"mark":"line","encoding":{"x":{"field":"t","type":"quantitative","scale":{"domain":[-100,820],"nice":false},"axis":{"values":[-100,0,100,200,300,400,500,600,700,800],"labels":false}},"y":{"field":"uv","type":"quantitative","scale":{"domain":[-4,6.8],"nice":false},"axis":{"values":[-4,-3,-2,-1,0,1,2,3,4,5,6],"labels":false}},"color":{"field":"cond","type":"nominal","title":null,"legend":{"orient":"none","legendX":320.5,"legendY":-24}}}},
   {"transform":[{"filter":"datum.k=='HC FC3'"}],"title":{"text":"FC3","anchor":"start","frame":"group","offset":-14.5,"dx":5,"fontSize":6.5,"fontWeight":"bold","color":"#222","baseline":"alphabetic"},"mark":"line","encoding":{"x":{"field":"t","type":"quantitative","scale":{"domain":[-100,820],"nice":false},"axis":{"values":[-100,0,100,200,300,400,500,600,700,800],"labels":false}},"y":{"field":"uv","type":"quantitative","scale":{"domain":[-4,6.8],"nice":false},"axis":{"values":[-4,-3,-2,-1,0,1,2,3,4,5,6],"labels":false}},"color":{"field":"cond","type":"nominal","title":null,"legend":{"orient":"none","legendX":320.5,"legendY":-24}}}},
   {"transform":[{"filter":"datum.k=='HC CP3'"}],"title":{"text":"CP3","anchor":"start","frame":"group","offset":-14.5,"dx":5,"fontSize":6.5,"fontWeight":"bold","color":"#222","baseline":"alphabetic"},"mark":"line","encoding":{"x":{"field":"t","type":"quantitative","scale":{"domain":[-100,820],"nice":false},"axis":{"values":[-100,0,100,200,300,400,500,600,700,800],"labels":false}},"y":{"field":"uv","type":"quantitative","scale":{"domain":[-4,6.8],"nice":false},"axis":{"values":[-4,-3,-2,-1,0,1,2,3,4,5,6],"labels":false}},"color":{"field":"cond","type":"nominal","title":null,"legend":{"orient":"none","legendX":320.5,"legendY":-24}}}},
   {"transform":[{"filter":"datum.k=='HC PO3'"}],"title":{"text":"PO3","anchor":"start","frame":"group","offset":-14.5,"dx":5,"fontSize":6.5,"fontWeight":"bold","color":"#222","baseline":"alphabetic"},"mark":"line","encoding":{"x":{"field":"t","type":"quantitative","scale":{"domain":[-100,820],"nice":false},"axis":{"values":[-100,0,100,200,300,400,500,600,700,800],"labelExpr":"datum.value>=0 && datum.value%200==0 ? datum.label : ''"}},"y":{"field":"uv","type":"quantitative","scale":{"domain":[-4,6.8],"nice":false},"axis":{"values":[-4,-3,-2,-1,0,1,2,3,4,5,6],"labelExpr":"datum.value%2==0 ? datum.label : ''"}},"color":{"field":"cond","type":"nominal","title":null,"legend":{"orient":"none","legendX":320.5,"legendY":-24}}}}
  ]},
  {"spacing":1.3,"vconcat":[
   {"transform":[{"filter":"datum.k=='HC FP2'"}],"title":{"text":"FP2","anchor":"start","frame":"group","offset":-14.5,"dx":5,"fontSize":6.5,"fontWeight":"bold","color":"#222","baseline":"alphabetic"},"mark":"line","encoding":{"x":{"field":"t","type":"quantitative","scale":{"domain":[-100,820],"nice":false},"axis":{"values":[-100,0,100,200,300,400,500,600,700,800],"labels":false}},"y":{"field":"uv","type":"quantitative","scale":{"domain":[-4,6.8],"nice":false},"axis":{"values":[-4,-3,-2,-1,0,1,2,3,4,5,6],"labels":false}},"color":{"field":"cond","type":"nominal","title":null,"legend":{"orient":"none","legendX":320.5,"legendY":-24}}}},
   {"transform":[{"filter":"datum.k=='HC FC4'"}],"title":{"text":"FC4","anchor":"start","frame":"group","offset":-14.5,"dx":5,"fontSize":6.5,"fontWeight":"bold","color":"#222","baseline":"alphabetic"},"mark":"line","encoding":{"x":{"field":"t","type":"quantitative","scale":{"domain":[-100,820],"nice":false},"axis":{"values":[-100,0,100,200,300,400,500,600,700,800],"labels":false}},"y":{"field":"uv","type":"quantitative","scale":{"domain":[-4,6.8],"nice":false},"axis":{"values":[-4,-3,-2,-1,0,1,2,3,4,5,6],"labels":false}},"color":{"field":"cond","type":"nominal","title":null,"legend":{"orient":"none","legendX":320.5,"legendY":-24}}}},
   {"transform":[{"filter":"datum.k=='HC CP4'"}],"title":{"text":"CP4","anchor":"start","frame":"group","offset":-14.5,"dx":5,"fontSize":6.5,"fontWeight":"bold","color":"#222","baseline":"alphabetic"},"mark":"line","encoding":{"x":{"field":"t","type":"quantitative","scale":{"domain":[-100,820],"nice":false},"axis":{"values":[-100,0,100,200,300,400,500,600,700,800],"labels":false}},"y":{"field":"uv","type":"quantitative","scale":{"domain":[-4,6.8],"nice":false},"axis":{"values":[-4,-3,-2,-1,0,1,2,3,4,5,6],"labels":false}},"color":{"field":"cond","type":"nominal","title":null,"legend":{"orient":"none","legendX":320.5,"legendY":-24}}}},
   {"transform":[{"filter":"datum.k=='HC PO4'"}],"title":{"text":"PO4","anchor":"start","frame":"group","offset":-14.5,"dx":5,"fontSize":6.5,"fontWeight":"bold","color":"#222","baseline":"alphabetic"},"mark":"line","encoding":{"x":{"field":"t","type":"quantitative","scale":{"domain":[-100,820],"nice":false},"axis":{"values":[-100,0,100,200,300,400,500,600,700,800],"labelExpr":"datum.value>=0 && datum.value%200==0 ? datum.label : ''"}},"y":{"field":"uv","type":"quantitative","scale":{"domain":[-4,6.8],"nice":false},"axis":{"values":[-4,-3,-2,-1,0,1,2,3,4,5,6],"labelExpr":"datum.value%2==0 ? datum.label : ''"}},"color":{"field":"cond","type":"nominal","title":null,"legend":{"orient":"none","legendX":320.5,"legendY":-24}}}}
  ]}
 ]},
{"title":{"text":"NVS","anchor":"middle","dx":8.5,"fontSize":13.5,"fontWeight":"bold","color":"#000","offset":23.5,"baseline":"alphabetic"},
 "spacing":-2,
 "hconcat":[
  {"spacing":1.3,"vconcat":[
   {"transform":[{"filter":"datum.k=='NVS FP1'"}],"mark":"line","encoding":{"x":{"field":"t","type":"quantitative","scale":{"domain":[-100,820],"nice":false},"axis":{"values":[-100,0,100,200,300,400,500,600,700,800],"labels":false}},"y":{"field":"uv","type":"quantitative","scale":{"domain":[-4,6.8],"nice":false},"axis":{"values":[-4,-3,-2,-1,0,1,2,3,4,5,6],"labels":false}},"color":{"field":"cond","type":"nominal","title":null,"legend":{"orient":"none","legendX":320.5,"legendY":-24}}}},
   {"transform":[{"filter":"datum.k=='NVS FC3'"}],"mark":"line","encoding":{"x":{"field":"t","type":"quantitative","scale":{"domain":[-100,820],"nice":false},"axis":{"values":[-100,0,100,200,300,400,500,600,700,800],"labels":false}},"y":{"field":"uv","type":"quantitative","scale":{"domain":[-4,6.8],"nice":false},"axis":{"values":[-4,-3,-2,-1,0,1,2,3,4,5,6],"labels":false}},"color":{"field":"cond","type":"nominal","title":null,"legend":{"orient":"none","legendX":320.5,"legendY":-24}}}},
   {"transform":[{"filter":"datum.k=='NVS CP3'"}],"mark":"line","encoding":{"x":{"field":"t","type":"quantitative","scale":{"domain":[-100,820],"nice":false},"axis":{"values":[-100,0,100,200,300,400,500,600,700,800],"labels":false}},"y":{"field":"uv","type":"quantitative","scale":{"domain":[-4,6.8],"nice":false},"axis":{"values":[-4,-3,-2,-1,0,1,2,3,4,5,6],"labels":false}},"color":{"field":"cond","type":"nominal","title":null,"legend":{"orient":"none","legendX":320.5,"legendY":-24}}}},
   {"transform":[{"filter":"datum.k=='NVS PO3'"}],"title":{"text":"microVolt","anchor":"start","frame":"group","offset":-15,"dx":-1,"fontSize":9,"fontWeight":"bold","color":"#111","baseline":"alphabetic"},"mark":"line","encoding":{"x":{"field":"t","type":"quantitative","scale":{"domain":[-100,820],"nice":false},"axis":{"values":[-100,0,100,200,300,400,500,600,700,800],"labelExpr":"datum.value>=0 && datum.value%200==0 ? datum.label : ''"}},"y":{"field":"uv","type":"quantitative","scale":{"domain":[-4,6.8],"nice":false},"axis":{"values":[-4,-3,-2,-1,0,1,2,3,4,5,6],"labelExpr":"datum.value%2==0 ? datum.label : ''"}},"color":{"field":"cond","type":"nominal","title":null,"legend":{"orient":"none","legendX":320.5,"legendY":-24}}}}
  ]},
  {"spacing":1.3,"vconcat":[
   {"transform":[{"filter":"datum.k=='NVS FP2'"}],"mark":"line","encoding":{"x":{"field":"t","type":"quantitative","scale":{"domain":[-100,820],"nice":false},"axis":{"values":[-100,0,100,200,300,400,500,600,700,800],"labels":false}},"y":{"field":"uv","type":"quantitative","scale":{"domain":[-4,6.8],"nice":false},"axis":{"values":[-4,-3,-2,-1,0,1,2,3,4,5,6],"labels":false}},"color":{"field":"cond","type":"nominal","title":null,"legend":{"orient":"none","legendX":320.5,"legendY":-24}}}},
   {"transform":[{"filter":"datum.k=='NVS FC4'"}],"mark":"line","encoding":{"x":{"field":"t","type":"quantitative","scale":{"domain":[-100,820],"nice":false},"axis":{"values":[-100,0,100,200,300,400,500,600,700,800],"labels":false}},"y":{"field":"uv","type":"quantitative","scale":{"domain":[-4,6.8],"nice":false},"axis":{"values":[-4,-3,-2,-1,0,1,2,3,4,5,6],"labels":false}},"color":{"field":"cond","type":"nominal","title":null,"legend":{"orient":"none","legendX":320.5,"legendY":-24}}}},
   {"transform":[{"filter":"datum.k=='NVS CP4'"}],"mark":"line","encoding":{"x":{"field":"t","type":"quantitative","scale":{"domain":[-100,820],"nice":false},"axis":{"values":[-100,0,100,200,300,400,500,600,700,800],"labels":false}},"y":{"field":"uv","type":"quantitative","scale":{"domain":[-4,6.8],"nice":false},"axis":{"values":[-4,-3,-2,-1,0,1,2,3,4,5,6],"labels":false}},"color":{"field":"cond","type":"nominal","title":null,"legend":{"orient":"none","legendX":320.5,"legendY":-24}}}},
   {"transform":[{"filter":"datum.k=='NVS PO4'"}],"mark":"line","encoding":{"x":{"field":"t","type":"quantitative","scale":{"domain":[-100,820],"nice":false},"axis":{"values":[-100,0,100,200,300,400,500,600,700,800],"labelExpr":"datum.value>=0 && datum.value%200==0 ? datum.label : ''"}},"y":{"field":"uv","type":"quantitative","scale":{"domain":[-4,6.8],"nice":false},"axis":{"values":[-4,-3,-2,-1,0,1,2,3,4,5,6],"labelExpr":"datum.value%2==0 ? datum.label : ''"}},"color":{"field":"cond","type":"nominal","title":null,"legend":{"orient":"none","legendX":320.5,"legendY":-24}}}}
  ]}
 ]},
{"title":{"text":"VS","anchor":"middle","dx":0,"fontSize":13.5,"fontWeight":"bold","color":"#000","offset":23.5,"baseline":"alphabetic"},
 "spacing":-2,
 "hconcat":[
  {"spacing":1.3,"vconcat":[
   {"transform":[{"filter":"datum.k=='VS FP1'"}],"mark":"line","encoding":{"x":{"field":"t","type":"quantitative","scale":{"domain":[-100,820],"nice":false},"axis":{"values":[-100,0,100,200,300,400,500,600,700,800],"labels":false}},"y":{"field":"uv","type":"quantitative","scale":{"domain":[-4,6.8],"nice":false},"axis":{"values":[-4,-3,-2,-1,0,1,2,3,4,5,6],"labels":false}},"color":{"field":"cond","type":"nominal","title":null,"legend":{"orient":"none","legendX":320.5,"legendY":-24}}}},
   {"transform":[{"filter":"datum.k=='VS FC3'"}],"mark":"line","encoding":{"x":{"field":"t","type":"quantitative","scale":{"domain":[-100,820],"nice":false},"axis":{"values":[-100,0,100,200,300,400,500,600,700,800],"labels":false}},"y":{"field":"uv","type":"quantitative","scale":{"domain":[-4,6.8],"nice":false},"axis":{"values":[-4,-3,-2,-1,0,1,2,3,4,5,6],"labels":false}},"color":{"field":"cond","type":"nominal","title":null,"legend":{"orient":"none","legendX":320.5,"legendY":-24}}}},
   {"transform":[{"filter":"datum.k=='VS CP3'"}],"mark":"line","encoding":{"x":{"field":"t","type":"quantitative","scale":{"domain":[-100,820],"nice":false},"axis":{"values":[-100,0,100,200,300,400,500,600,700,800],"labels":false}},"y":{"field":"uv","type":"quantitative","scale":{"domain":[-4,6.8],"nice":false},"axis":{"values":[-4,-3,-2,-1,0,1,2,3,4,5,6],"labels":false}},"color":{"field":"cond","type":"nominal","title":null,"legend":{"orient":"none","legendX":320.5,"legendY":-24}}}},
   {"transform":[{"filter":"datum.k=='VS PO3'"}],"mark":"line","encoding":{"x":{"field":"t","type":"quantitative","scale":{"domain":[-100,820],"nice":false},"axis":{"values":[-100,0,100,200,300,400,500,600,700,800],"labelExpr":"datum.value>=0 && datum.value%200==0 ? datum.label : ''"}},"y":{"field":"uv","type":"quantitative","scale":{"domain":[-4,6.8],"nice":false},"axis":{"values":[-4,-3,-2,-1,0,1,2,3,4,5,6],"labelExpr":"datum.value%2==0 ? datum.label : ''"}},"color":{"field":"cond","type":"nominal","title":null,"legend":{"orient":"none","legendX":320.5,"legendY":-24}}}}
  ]},
  {"spacing":1.3,"vconcat":[
   {"transform":[{"filter":"datum.k=='VS FP2'"}],"mark":"line","encoding":{"x":{"field":"t","type":"quantitative","scale":{"domain":[-100,820],"nice":false},"axis":{"values":[-100,0,100,200,300,400,500,600,700,800],"labels":false}},"y":{"field":"uv","type":"quantitative","scale":{"domain":[-4,6.8],"nice":false},"axis":{"values":[-4,-3,-2,-1,0,1,2,3,4,5,6],"labels":false}},"color":{"field":"cond","type":"nominal","title":null,"legend":{"orient":"none","legendX":320.5,"legendY":-24}}}},
   {"transform":[{"filter":"datum.k=='VS FC4'"}],"mark":"line","encoding":{"x":{"field":"t","type":"quantitative","scale":{"domain":[-100,820],"nice":false},"axis":{"values":[-100,0,100,200,300,400,500,600,700,800],"labels":false}},"y":{"field":"uv","type":"quantitative","scale":{"domain":[-4,6.8],"nice":false},"axis":{"values":[-4,-3,-2,-1,0,1,2,3,4,5,6],"labels":false}},"color":{"field":"cond","type":"nominal","title":null,"legend":{"orient":"none","legendX":320.5,"legendY":-24}}}},
   {"transform":[{"filter":"datum.k=='VS CP4'"}],"mark":"line","encoding":{"x":{"field":"t","type":"quantitative","scale":{"domain":[-100,820],"nice":false},"axis":{"values":[-100,0,100,200,300,400,500,600,700,800],"labels":false}},"y":{"field":"uv","type":"quantitative","scale":{"domain":[-4,6.8],"nice":false},"axis":{"values":[-4,-3,-2,-1,0,1,2,3,4,5,6],"labels":false}},"color":{"field":"cond","type":"nominal","title":null,"legend":{"orient":"none","legendX":320.5,"legendY":-24}}}},
   {"transform":[{"filter":"datum.k=='VS PO4'"}],"mark":"line","encoding":{"x":{"field":"t","type":"quantitative","scale":{"domain":[-100,820],"nice":false},"axis":{"values":[-100,0,100,200,300,400,500,600,700,800],"labelExpr":"datum.value>=0 && datum.value%200==0 ? datum.label : ''"}},"y":{"field":"uv","type":"quantitative","scale":{"domain":[-4,6.8],"nice":false},"axis":{"values":[-4,-3,-2,-1,0,1,2,3,4,5,6],"labelExpr":"datum.value%2==0 ? datum.label : ''"}},"color":{"field":"cond","type":"nominal","title":null,"legend":{"orient":"none","legendX":320.5,"legendY":-24}}}}
  ]}
 ]}
],
"config":{
 "font":"Liberation Sans",
 "view":{"continuousWidth":108,"continuousHeight":84,"stroke":null},
 "range":{"category":["#d8404e","#1a1a1a","#3bb3c8"]},
 "line":{"strokeWidth":1.3,"interpolate":"monotone"},
 "axis":{"grid":false,"title":null,"domainColor":"#bdbdbd","tickColor":"#bdbdbd","tickSize":2,"labelFontSize":9,"labelColor":"#333","labelPadding":1,"labelOverlap":false,"labelFlush":false},
 "axisY":{"minExtent":10,"maxExtent":10},
 "legend":{"direction":"horizontal","symbolType":"stroke","symbolSize":289,"symbolStrokeWidth":1.5,"labelFontSize":13,"labelFontWeight":"bold","labelColor":"#000","labelAlign":"right","labelOffset":-20,"symbolOffset":0,"columnPadding":8,"padding":0}
}
}
